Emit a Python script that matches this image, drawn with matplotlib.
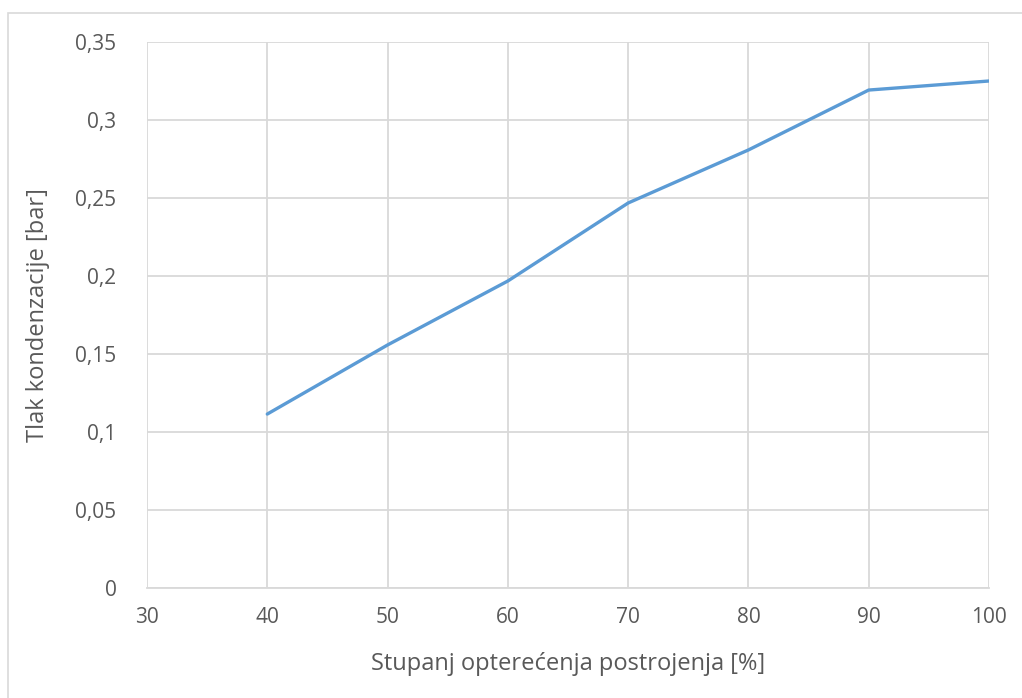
import matplotlib
matplotlib.use('Agg')
import matplotlib.pyplot as plt
from matplotlib.patches import Rectangle
from matplotlib.ticker import FuncFormatter

# Data
load = [40, 50, 60, 70, 80, 90, 100]
pressure = [0.1115, 0.1558, 0.1968, 0.2468, 0.2808, 0.3192, 0.3250]

x_ticks = [30, 40, 50, 60, 70, 80, 90, 100]
y_ticks = [0, 0.05, 0.1, 0.15, 0.2, 0.25, 0.3, 0.35]

plt.rcParams['font.family'] = ['Open Sans', 'DejaVu Sans']
text_col = '#595959'
grid_col = '#d9d9d9'

W, H = 1022, 698
fig = plt.figure(figsize=(W / 100, H / 100), dpi=100)

# outer chart-area frame (only left/top visible in reference)
fig.patches.append(Rectangle((8 / W, 0 - 0.01), 1.2, (H - 13) / H + 0.01,
                             transform=fig.transFigure, fill=False,
                             edgecolor=grid_col, linewidth=1.2))

ax = fig.add_axes([147 / W, 1 - 588 / H, (989 - 147) / W, (588 - 42) / H])
ax.plot(load, pressure, color='#5b9bd5', linewidth=2.4, solid_capstyle='round', zorder=3)

ax.set_xlim(30, 100)
ax.set_ylim(0, 0.35)
ax.set_xticks(x_ticks)
ax.set_yticks(y_ticks)
ax.yaxis.set_major_formatter(FuncFormatter(lambda v, p: ('%g' % round(v, 2)).replace('.', ',')))
ax.grid(True, color=grid_col, linewidth=1.3)
ax.set_axisbelow(True)

for s in ['top', 'right', 'left']:
    ax.spines[s].set_visible(False)
ax.spines['bottom'].set_color(grid_col)
ax.spines['bottom'].set_linewidth(1.3)

ax.tick_params(length=0, labelsize=15, colors=text_col)
ax.tick_params(axis='x', pad=14)
ax.tick_params(axis='y', pad=22)
ax.set_xlabel('Stupanj opterećenja postrojenja [%]', fontsize=17, color=text_col, labelpad=17)
ax.set_ylabel('Tlak kondenzacije [bar]', fontsize=17, color=text_col, labelpad=18)

fig.savefig('out.png', dpi=100)
